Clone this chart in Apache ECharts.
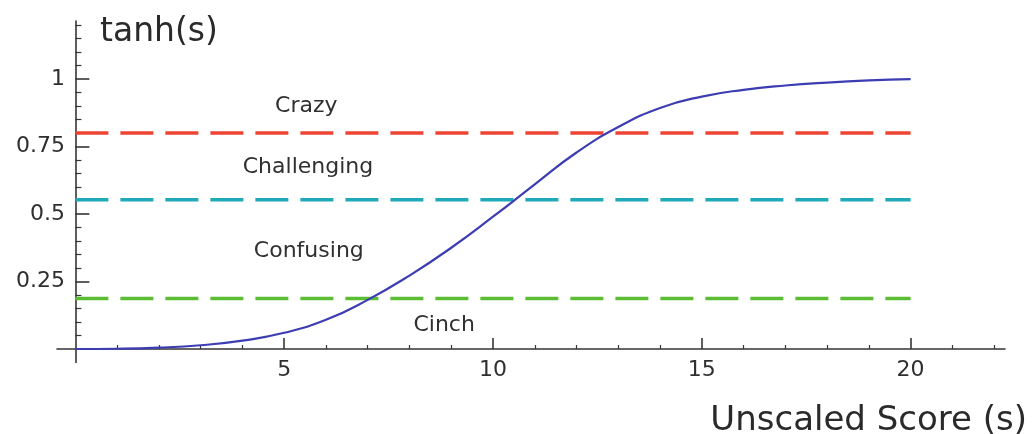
<!DOCTYPE html>
<html>
<head>
<meta charset="utf-8">
<title>tanh(s)</title>
<script src="https://cdn.jsdelivr.net/npm/echarts@6/dist/echarts.min.js"></script>
<style>
  html, body { margin: 0; padding: 0; background: #ffffff; }
  #chart { width: 1032px; height: 434px; }
</style>
</head>
<body>
<div id="chart"></div>
<script>
// Unscaled score s and the scaled value tanh(s)
const scores = [0, 1, 2, 3, 4, 5, 6, 7, 8, 9, 10, 11, 12, 13, 14, 15, 16, 17, 18, 19, 20];
const tanhValues = [0, 0.001, 0.005, 0.014, 0.031, 0.06, 0.108, 0.182, 0.272, 0.375, 0.49,
                    0.61, 0.728, 0.822, 0.893, 0.935, 0.96, 0.976, 0.987, 0.995, 1.0];

// Difficulty thresholds (horizontal dashed lines)
const thresholdNames = ['Crazy', 'Challenging', 'Cinch'];
const thresholdLevels = [0.8, 0.553, 0.187];
const thresholdSpan = [0, 20];

// Zone names written between the thresholds
const zoneNames = ['Crazy', 'Challenging', 'Confusing', 'Cinch'];

// Tick labels
const xTickValues = [5, 10, 15, 20];
const yTickValues = [0.25, 0.5, 0.75, 1];
const yTickLabels = ['0.25', '0.5', '0.75', '1'];

// ---- layout / style ----
const FONT = 'DejaVu Sans';
const AXIS_COLOR = '#353535';
const TEXT_COLOR = '#2f2f2f';
const thresholdColors = ['#ee4433', '#1fa9b9', '#5bbd34'];
const zoneAnchors = [[5.53, 0.9], [5.57, 0.674], [5.59, 0.363], [8.83, 0.089]];

const X_MIN = -0.44, X_MAX = 22.26;
const Y_MIN = -0.05, Y_MAX = 1.215;

const xMinor = [];
for (let v = 1; v <= 22; v++) if (v % 5 !== 0) xMinor.push(v);
const yMinor = [];
for (let k = 1; k <= 24; k++) if (k % 5 !== 0) yMinor.push(+(k * 0.05).toFixed(2));

const chart = echarts.init(document.getElementById('chart'), null, { renderer: 'canvas' });

const thresholdSeries = thresholdLevels.map((lvl, i) => ({
  name: thresholdNames[i],
  type: 'line',
  data: thresholdSpan.map(s => [s, lvl]),
  symbol: 'none',
  silent: true,
  z: 2,
  lineStyle: { color: thresholdColors[i], width: 3.5, type: [33, 12], cap: 'butt' }
}));

const option = {
  animation: false,
  backgroundColor: '#ffffff',
  grid: { left: 57, right: 27, top: 21, bottom: 71.5, containLabel: false, outerBoundsMode: 'none' },
  xAxis: [
    {
      type: 'value', min: X_MIN, max: X_MAX, position: 'bottom',
      axisLine: { show: true, onZero: true, onZeroAxisIndex: 0, lineStyle: { color: AXIS_COLOR, width: 1.6 } },
      axisTick: { show: true, inside: true, length: 11, customValues: xTickValues, lineStyle: { color: AXIS_COLOR, width: 1.6 } },
      axisLabel: { show: true, customValues: xTickValues, margin: -3, fontFamily: FONT, fontSize: 22, color: TEXT_COLOR },
      splitLine: { show: false }
    },
    {
      type: 'value', min: X_MIN, max: X_MAX, position: 'bottom',
      axisLine: { show: true, onZero: true, onZeroAxisIndex: 0, lineStyle: { opacity: 0 } },
      axisTick: { show: true, inside: true, length: 4, customValues: xMinor, lineStyle: { color: AXIS_COLOR, width: 1.2 } },
      axisLabel: { show: false },
      splitLine: { show: false }
    }
  ],
  yAxis: [
    {
      type: 'value', min: Y_MIN, max: Y_MAX, position: 'left',
      axisLine: { show: true, onZero: true, onZeroAxisIndex: 0, lineStyle: { color: AXIS_COLOR, width: 1.6 } },
      axisTick: { show: true, inside: true, length: 14, customValues: yTickValues, lineStyle: { color: AXIS_COLOR, width: 1.6 } },
      axisLabel: {
        show: true, customValues: yTickValues, margin: -8, fontFamily: FONT, fontSize: 22, color: TEXT_COLOR,
        formatter: v => yTickLabels[yTickValues.findIndex(t => Math.abs(t - v) < 1e-9)] ?? String(v)
      },
      splitLine: { show: false }
    },
    {
      type: 'value', min: Y_MIN, max: Y_MAX, position: 'left',
      axisLine: { show: true, onZero: true, onZeroAxisIndex: 0, lineStyle: { opacity: 0 } },
      axisTick: { show: true, inside: true, length: 6, customValues: yMinor, lineStyle: { color: AXIS_COLOR, width: 1.2 } },
      axisLabel: { show: false },
      splitLine: { show: false }
    }
  ],
  graphic: [
    {
      type: 'text', left: 100, top: 16,
      style: { text: 'tanh(s)', font: '33px "DejaVu Sans"', fill: '#2a2a2a' }
    },
    {
      type: 'text', right: 5, top: 404,
      style: { text: 'Unscaled Score (s)', font: '34px "DejaVu Sans"', fill: '#2a2a2a' }
    }
  ],
  series: [
    ...thresholdSeries,
    {
      name: 'zones',
      type: 'scatter',
      symbolSize: 0,
      silent: true,
      z: 3,
      itemStyle: { opacity: 1 },
      data: zoneNames.map((n, i) => ({ name: n, value: zoneAnchors[i] })),
      label: {
        show: true, position: 'inside', formatter: p => p.name,
        fontFamily: FONT, fontSize: 22, color: '#303030',
        textBorderWidth: 0, textBorderColor: 'transparent'
      }
    },
    {
      name: 'tanh(s)',
      type: 'line',
      data: scores.map((s, i) => [s, tanhValues[i]]),
      smooth: 0.5,
      symbol: 'none',
      z: 4,
      lineStyle: { color: '#3d3db3', width: 2.2 }
    }
  ]
};

chart.setOption(option);
</script>
</body>
</html>
